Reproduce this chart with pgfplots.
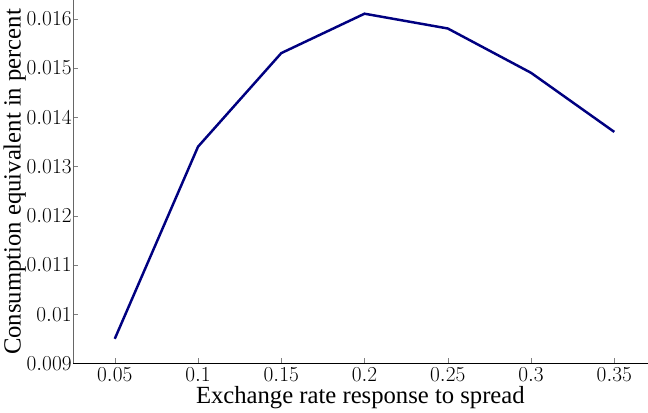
\documentclass[border=0pt]{standalone}
\usepackage{pgfplots}
\pgfplotsset{compat=1.18}
\usepackage{fontspec}
\setmainfont{Liberation Serif}
\definecolor{matnavy}{RGB}{0,0,128}
\newcommand{\tfont}{\fontsize{22.5}{24}\selectfont}
\begin{document}
\begin{tikzpicture}
  \begin{axis}[scale only axis, width=557bp, height=352bp,
      axis x line=bottom, axis y line=left,
      axis line style={-, line width=0.8pt},
      x axis line style={black}, y axis line style={gray!80!black},
      tick align=inside, major tick length=5pt,
      scaled y ticks=false, scaled x ticks=false,
      xmin=0.025, xmax=0.37, ymin=0.009, ymax=0.01637,
      xtick={0.05,0.1,0.15,0.2,0.25,0.3,0.35},
      ytick={0.009,0.01,0.011,0.012,0.013,0.014,0.015,0.016},
      xticklabel={\textrm{\tfont\pgfmathprintnumber[fixed,precision=3]{\tick}}},
      yticklabel={\textrm{\tfont\pgfmathprintnumber[fixed,precision=3]{\tick}}},
      xticklabel style={yshift=-1pt},
      yticklabel style={xshift=2pt},
      label style={font=\fontsize{24}{26}\selectfont},
      xlabel={Exchange rate response to spread},
      ylabel={Consumption equivalent in percent},
      xlabel style={yshift=2pt},
      ylabel style={yshift=-6pt},
    ]
    \addplot[color=matnavy, line width=2.4pt, mark=none] coordinates {
      (0.05, 0.0095)
      (0.10, 0.0134)
      (0.15, 0.0153)
      (0.20, 0.0161)
      (0.25, 0.0158)
      (0.30, 0.0149)
      (0.35, 0.0137)
    };
  \end{axis}
\end{tikzpicture}
\end{document}
